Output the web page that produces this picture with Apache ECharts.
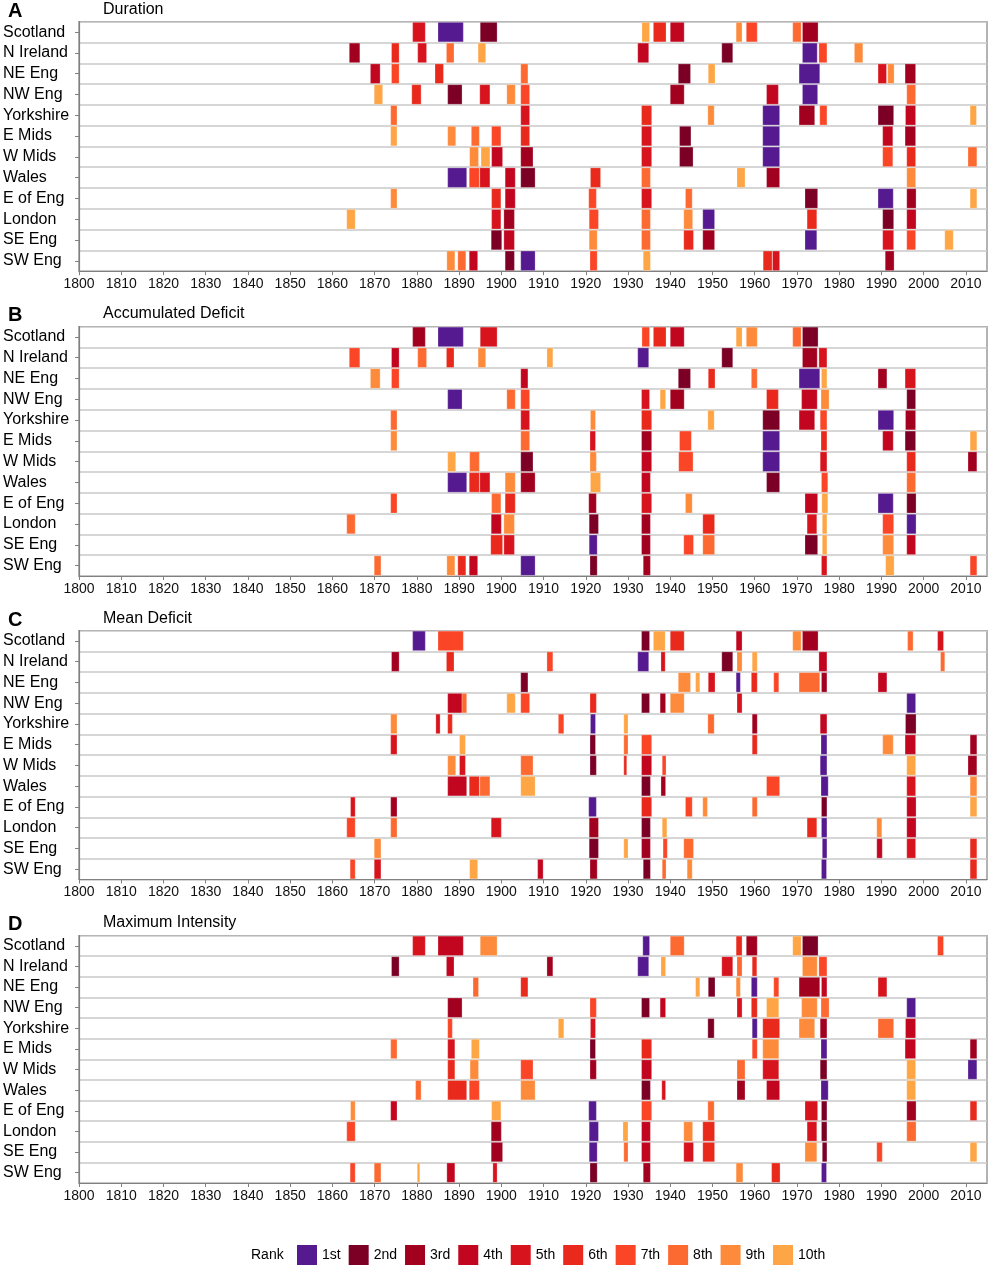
<!DOCTYPE html>
<html><head><meta charset="utf-8">
<script src="https://cdn.jsdelivr.net/npm/echarts@6/dist/echarts.min.js"></script>
<style>html,body{margin:0;padding:0;background:#fff}#c{width:989px;height:1267px}</style>
</head><body><div id="c"></div>
<script>
const regions = ['Scotland','N Ireland','NE Eng','NW Eng','Yorkshire','E Mids','W Mids','Wales','E of Eng','London','SE Eng','SW Eng'];
const rankNames = ['1st','2nd','3rd','4th','5th','6th','7th','8th','9th','10th'];
const rankColors = ['#561a90','#7c0025','#a2001f','#c2061f','#d7141d','#e8291c','#fa4526','#fd6a31','#fd8b3b','#fea545'];
const panelLetters = ['A','B','C','D'];
const panelTitles = ['Duration','Accumulated Deficit','Mean Deficit','Maximum Intensity'];
const yearMin = 1800, yearMax = 2015, yearStep = 10;

// each event: [start year, end year, rank]
const durationEvents = [
 [[1879,1882,5],[1885,1891,1],[1895,1899,2],[1933.3,1935.1,10],[1936,1939,6],[1940,1943.3,4],[1955.6,1957,9],[1958,1960.6,7],[1969,1971,8],[1971.3,1975,3]],
 [[1864,1866.5,3],[1874,1875.8,6],[1880.2,1882.3,5],[1887,1888.8,8],[1894.5,1896.3,10],[1932.3,1934.9,4],[1952.2,1954.8,2],[1971.3,1974.8,1],[1975.2,1977.1,7],[1983.6,1985.6,9]],
 [[1869,1871.3,4],[1874,1875.8,7],[1884.3,1886.3,6],[1904.6,1906.3,8],[1941.9,1944.8,2],[1949,1950.6,10],[1970.5,1975.4,1],[1989.2,1991.2,5],[1991.5,1993,9],[1995.6,1998.1,3]],
 [[1869.9,1871.9,10],[1878.8,1881,6],[1887.3,1890.7,2],[1894.9,1897.3,5],[1901.3,1903.3,9],[1904.6,1906.7,7],[1940,1943.3,3],[1962.8,1965.6,4],[1971.3,1974.9,1],[1996,1998.1,8]],
 [[1873.8,1875.3,8],[1904.6,1906.7,5],[1933.2,1935.6,6],[1948.9,1950.4,9],[1961.9,1965.9,1],[1970.5,1974.2,3],[1975.4,1977.1,7],[1989.2,1992.9,2],[1995.7,1998.1,4],[2011,2012.5,10]],
 [[1873.8,1875.3,10],[1887.3,1889.2,9],[1892.9,1894.8,8],[1897.7,1899.9,7],[1904.6,1906.7,6],[1933.2,1935.6,5],[1942.2,1944.9,2],[1961.9,1965.9,1],[1990.3,1992.7,4],[1995.6,1998.1,3]],
 [[1892.5,1894.6,9],[1895.2,1897.3,10],[1897.7,1900.3,4],[1904.6,1907.5,3],[1933.2,1935.6,5],[1942.2,1945.4,2],[1961.9,1965.9,1],[1990.3,1992.7,7],[1996,1998.1,6],[2010.5,2012.6,8]],
 [[1887.3,1891.8,1],[1892.4,1894.8,7],[1894.9,1897.3,5],[1900.9,1903.3,4],[1904.6,1908,2],[1921.1,1923.5,6],[1933.2,1935.3,8],[1955.8,1957.7,10],[1962.8,1965.9,3],[1996,1998.1,9]],
 [[1873.8,1875.3,9],[1897.7,1899.9,6],[1900.9,1903.3,4],[1920.7,1922.5,7],[1933.2,1935.6,5],[1943.6,1945.2,8],[1971.9,1974.9,2],[1989.2,1992.8,1],[1996,1998.2,3],[2011,2012.6,10]],
 [[1863.4,1865.4,10],[1897.7,1899.9,5],[1900.6,1903.1,3],[1920.8,1923,7],[1933.2,1935.3,8],[1943.2,1945.3,9],[1947.7,1950.5,1],[1972.4,1974.7,6],[1990.3,1992.9,2],[1996,1998.2,4]],
 [[1897.6,1900.1,2],[1900.6,1903.1,4],[1920.8,1922.7,9],[1933.2,1935.3,8],[1943.2,1945.5,6],[1947.7,1950.5,3],[1971.9,1974.7,1],[1990.3,1992.9,5],[1996,1998.1,7],[2005,2007,10]],
 [[1887.1,1889,9],[1889.7,1891.6,8],[1892.4,1894.4,4],[1900.9,1903.1,2],[1904.6,1908,1],[1921,1922.7,7],[1933.6,1935.3,10],[1962,1964.1,6],[1964.2,1965.9,5],[1990.9,1993,3]]
];
const accumulatedEvents = [
 [[1879,1882,3],[1885,1891,1],[1895,1899,5],[1933.3,1935.1,7],[1936,1939,6],[1940,1943.3,4],[1955.6,1957,10],[1958,1960.6,9],[1969,1971,8],[1971.3,1975,2]],
 [[1864,1866.5,7],[1874,1875.8,4],[1880.2,1882.3,8],[1887,1888.8,6],[1894.5,1896.3,9],[1910.8,1912.2,10],[1932.3,1934.9,1],[1952.2,1954.8,2],[1971.3,1974.8,3],[1975.2,1977.1,5]],
 [[1869,1871.3,9],[1874,1875.8,7],[1904.6,1906.3,4],[1941.9,1944.8,2],[1949,1950.6,6],[1959.2,1960.6,8],[1970.5,1975.4,1],[1975.8,1977.1,10],[1989.2,1991.3,3],[1995.6,1998.1,5]],
 [[1887.3,1890.7,1],[1901.3,1903.3,8],[1904.6,1906.7,7],[1933.2,1935.1,5],[1937.6,1938.9,10],[1940,1943.3,3],[1962.8,1965.6,6],[1971.1,1974.8,4],[1975.7,1977.6,9],[1996,1998.1,2]],
 [[1873.8,1875.3,8],[1904.6,1906.7,5],[1921.1,1922.3,9],[1933.2,1935.6,6],[1948.9,1950.4,10],[1961.9,1965.9,2],[1970.5,1974.2,4],[1975.5,1977.1,7],[1989.2,1992.9,1],[1995.7,1998.1,3]],
 [[1873.8,1875.3,9],[1904.6,1906.7,8],[1921,1922.3,5],[1933.2,1935.6,3],[1942.2,1945,7],[1961.9,1965.9,1],[1975.7,1977.1,6],[1990.3,1992.8,4],[1995.6,1998.1,2],[2011,2012.6,10]],
 [[1887.3,1889.2,10],[1892.5,1894.8,8],[1904.6,1907.5,2],[1921,1922.5,9],[1933.2,1935.6,4],[1942,1945.4,7],[1961.9,1965.9,1],[1975.5,1977.1,5],[1996,1998.1,6],[2010.5,2012.6,3]],
 [[1887.3,1891.8,1],[1892.4,1894.8,6],[1894.9,1897.3,5],[1900.9,1903.3,9],[1904.6,1908,3],[1921.1,1923.5,10],[1933.2,1935.3,4],[1962.8,1965.9,2],[1975.8,1977.3,7],[1996,1998.1,8]],
 [[1873.8,1875.3,7],[1897.7,1899.9,8],[1900.9,1903.3,6],[1920.7,1922.5,3],[1933.2,1935.6,5],[1943.6,1945.2,9],[1971.9,1974.9,4],[1975.9,1977.3,10],[1989.2,1992.8,1],[1996,1998.2,2]],
 [[1863.4,1865.4,8],[1897.6,1900,4],[1900.6,1903.1,9],[1920.8,1923,2],[1933.2,1935.3,3],[1947.7,1950.5,6],[1972.4,1974.7,5],[1976,1977.1,10],[1990.3,1992.9,7],[1996,1998.2,1]],
 [[1897.5,1900.3,6],[1900.6,1903.1,5],[1920.8,1922.7,1],[1933.2,1935.3,3],[1943.2,1945.5,7],[1947.7,1950.5,8],[1971.9,1974.9,2],[1976,1977.1,10],[1990.3,1992.9,9],[1996,1998.1,4]],
 [[1869.9,1871.5,8],[1887.1,1889,9],[1889.7,1891.6,6],[1892.4,1894.4,4],[1904.6,1908,1],[1921,1922.7,2],[1933.6,1935.3,3],[1975.8,1977.1,5],[1991,1993,10],[2011,2012.6,7]]
];
const meanEvents = [
 [[1879,1882,1],[1885,1891,7],[1933.2,1935.1,2],[1936,1938.8,10],[1940,1943.3,6],[1955.6,1957,4],[1969,1971,9],[1971.3,1975,3],[1996.2,1997.5,8],[2003.3,2004.7,5]],
 [[1874,1875.8,3],[1887,1888.8,6],[1910.8,1912.2,7],[1932.3,1934.9,1],[1937.8,1938.8,5],[1952.2,1954.8,2],[1955.8,1957,9],[1959.4,1960.6,10],[1975.2,1977.1,4],[2004,2005,8]],
 [[1904.6,1906.3,2],[1941.9,1944.8,9],[1946,1947,10],[1949,1950.6,5],[1955.6,1956.6,1],[1959.2,1960.6,6],[1964.5,1965.7,7],[1970.5,1975.4,8],[1975.8,1977.1,3],[1989.2,1991.3,4]],
 [[1887.3,1890.7,4],[1890.7,1891.8,8],[1901.3,1903.3,10],[1904.6,1906.7,7],[1921,1922.5,6],[1933.2,1935.1,2],[1937.6,1938.9,3],[1940,1943.3,9],[1955.8,1957,5],[1996,1998.1,1]],
 [[1873.8,1875.3,9],[1884.5,1885.5,5],[1887.3,1888.4,6],[1913.5,1914.8,7],[1921.1,1922.3,1],[1929,1930,10],[1948.9,1950.4,8],[1959.4,1960.6,3],[1975.5,1977.1,4],[1995.7,1998.2,2]],
 [[1873.8,1875.3,5],[1890.1,1891.5,10],[1921,1922.3,2],[1929,1930,8],[1933.2,1935.6,7],[1959.4,1960.6,6],[1975.7,1977.1,1],[1990.3,1992.8,9],[1995.6,1998.1,4],[2011,2012.6,3]],
 [[1887.3,1889.2,9],[1890.1,1891.5,5],[1904.6,1907.5,8],[1921,1922.5,2],[1929,1929.7,6],[1933.2,1935.6,4],[1938.1,1939,7],[1975.5,1977.1,1],[1996,1998.1,10],[2010.5,2012.6,3]],
 [[1887.3,1891.8,4],[1892.4,1894.8,6],[1894.9,1897.3,8],[1904.6,1908,10],[1933.2,1935.3,2],[1937.8,1938.9,3],[1962.8,1965.9,7],[1975.7,1977.4,1],[1996,1998.1,5],[2011,2012.6,9]],
 [[1864.3,1865.4,5],[1873.8,1875.3,3],[1920.7,1922.5,1],[1933.2,1935.6,6],[1943.6,1945.2,7],[1947.7,1948.8,9],[1959.4,1960.6,8],[1975.8,1977.1,2],[1996,1998.2,4],[2011,2012.6,10]],
 [[1863.4,1865.4,7],[1873.8,1875.3,8],[1897.6,1900,5],[1920.8,1923,3],[1933.2,1935.3,2],[1938.1,1939.2,10],[1972.4,1974.7,6],[1975.8,1977.1,1],[1988.9,1990.1,9],[1996,1998.2,4]],
 [[1869.9,1871.5,9],[1920.8,1923,2],[1929,1930,10],[1933.2,1935.3,3],[1938.3,1939.3,7],[1943.2,1945.5,8],[1976,1977.1,1],[1988.9,1990.2,4],[1996,1998.1,5],[2011,2012.6,6]],
 [[1864.2,1865.4,7],[1869.9,1871.5,5],[1892.5,1894.4,10],[1908.6,1909.9,4],[1921,1922.7,3],[1933.6,1935.3,2],[1938.1,1939,8],[1944,1945.2,9],[1975.8,1977,1],[2011,2012.6,6]]
];
const intensityEvents = [
 [[1879,1882,5],[1885,1891,4],[1895,1899,9],[1933.5,1935.1,1],[1940,1943.3,8],[1955.6,1957,6],[1958,1960.6,3],[1969,1971,10],[1971.3,1975,2],[2003.3,2004.7,7]],
 [[1874,1875.8,2],[1887,1888.8,4],[1910.8,1912.2,3],[1932.3,1934.9,1],[1937.8,1938.9,10],[1952.2,1954.8,5],[1955.8,1957,8],[1959.4,1960.5,6],[1971.3,1974.8,9],[1975.2,1977.1,7]],
 [[1893.3,1894.6,8],[1904.6,1906.3,6],[1946,1947,10],[1949,1950.6,2],[1955.6,1956.6,9],[1959.2,1960.6,1],[1964.5,1965.7,7],[1970.5,1975.4,3],[1975.8,1977.1,4],[1989.2,1991.3,5]],
 [[1887.3,1890.7,3],[1921,1922.5,7],[1933.2,1935.1,2],[1937.6,1938.9,4],[1955.8,1957,5],[1959.2,1960.6,6],[1962.8,1965.7,10],[1971.1,1974.8,9],[1975.7,1977.6,8],[1996,1998.1,1]],
 [[1887.3,1888.4,7],[1913.5,1914.8,10],[1921.1,1922.3,5],[1948.9,1950.4,2],[1959.4,1960.6,1],[1961.9,1965.9,6],[1970.5,1974.2,9],[1975.5,1977.1,3],[1989.2,1992.9,8],[1995.7,1998.1,4]],
 [[1873.8,1875.3,8],[1887.3,1889,5],[1892.9,1894.8,10],[1921,1922.3,2],[1933.2,1935.6,6],[1959.4,1960.6,7],[1961.9,1965.7,9],[1975.7,1977.1,1],[1995.6,1998.1,4],[2011,2012.6,3]],
 [[1887.3,1889,6],[1892.6,1894.6,9],[1904.6,1907.5,7],[1921,1922.5,3],[1933.2,1935.6,4],[1955.8,1957.7,8],[1961.9,1965.7,5],[1975.5,1977.1,2],[1996,1998.1,10],[2010.5,2012.6,1]],
 [[1879.7,1881,8],[1887.3,1891.8,6],[1892.4,1894.8,7],[1904.6,1908,9],[1933.2,1935.3,2],[1938,1938.9,5],[1955.8,1957.7,3],[1962.8,1965.9,4],[1975.7,1977.4,1],[1996,1998.1,10]],
 [[1864.3,1865.4,9],[1873.8,1875.3,4],[1897.7,1899.9,10],[1920.7,1922.5,1],[1933.2,1935.6,7],[1948.9,1950.4,8],[1971.9,1974.9,5],[1975.8,1977.1,2],[1996,1998.2,3],[2011,2012.6,6]],
 [[1863.4,1865.4,7],[1897.6,1900,3],[1920.8,1923,1],[1928.8,1930,10],[1933.2,1935.3,4],[1943.2,1945.3,9],[1947.7,1950.5,6],[1972.4,1974.7,5],[1975.8,1977.1,2],[1996,1998.2,8]],
 [[1897.6,1900.3,3],[1920.8,1922.7,1],[1929,1930,8],[1933.2,1935.3,4],[1943.2,1945.5,5],[1947.7,1950.5,6],[1971.9,1974.7,9],[1976,1977.1,2],[1988.9,1990.2,7],[2011,2012.6,10]],
 [[1864.2,1865.4,7],[1869.9,1871.5,8],[1880.1,1880.7,10],[1887.1,1889,4],[1898,1899,5],[1921,1922.7,2],[1933.6,1935.3,3],[1955.6,1957.2,9],[1964,1966,6],[1975.8,1977,1]]
];
const panels = [durationEvents, accumulatedEvents, meanEvents, intensityEvents];

const gridTops = [21.7, 326.5, 630.5, 935.5];
const gridHeights = [249.5, 249.5, 249, 247.5];
const titleOffsets = [0, 304.5, 609, 913.5];
const FONT = 'Liberation Sans, Arial, sans-serif';
const AXIS_GRAY = '#808080';

function renderBar(params, api) {
  const row = api.value(2);
  const a = api.coord([api.value(0), row]);
  const b = api.coord([api.value(1), row]);
  const h = api.size([0, 1])[1];
  return {
    type: 'rect',
    shape: { x: a[0], y: a[1] - h / 2 + 0.6, width: b[0] - a[0], height: h - 1.2 },
    style: Object.assign(api.style(), { stroke: 'rgba(255,255,255,0.25)', lineWidth: 1 })
  };
}

const grid = [], xAxis = [], yAxis = [], series = [], graphic = [];
panels.forEach((events, p) => {
  grid.push({ left: 79, right: 2, top: gridTops[p], height: gridHeights[p], show: true, borderColor: AXIS_GRAY, borderWidth: 1.2, backgroundColor: '#fff' });
  xAxis.push({
    type: 'value', gridIndex: p, min: yearMin, max: yearMax, interval: yearStep,
    axisLine: { show: true, lineStyle: { color: AXIS_GRAY, width: 1.2 } },
    axisTick: { show: true, length: 4, lineStyle: { color: AXIS_GRAY } },
    axisLabel: { fontSize: 14, color: '#111', fontFamily: FONT, margin: 6, formatter: v => String(v) },
    splitLine: { show: false }
  });
  yAxis.push({
    type: 'category', gridIndex: p, data: regions, inverse: true,
    axisLine: { show: true, lineStyle: { color: AXIS_GRAY, width: 1.2 } },
    axisTick: { show: true, length: 4, alignWithLabel: true, interval: 0, lineStyle: { color: AXIS_GRAY } },
    axisLabel: { fontSize: 16, color: '#000', fontFamily: FONT, align: 'left', margin: 76, interval: 0 },
    splitLine: { show: true, interval: 0, lineStyle: { color: '#c8c8c8', width: 1.5 } }
  });
  rankNames.forEach((rn, r) => {
    const data = [];
    events.forEach((rowEvents, ri) => {
      rowEvents.forEach(ev => { if (ev[2] === r + 1) data.push([ev[0], ev[1], ri]); });
    });
    series.push({
      type: 'custom', name: rn, xAxisIndex: p, yAxisIndex: p,
      renderItem: renderBar, encode: { x: [0, 1], y: 2 },
      itemStyle: { color: rankColors[r] }, data: data, animation: false
    });
  });
  graphic.push({ type: 'text', left: 8, top: titleOffsets[p] + 1, style: { text: panelLetters[p], font: 'bold 20px ' + FONT, fill: '#000' } });
  graphic.push({ type: 'text', left: 103, top: titleOffsets[p] + 1.5, style: { text: panelTitles[p], font: '16px ' + FONT, fill: '#000' } });
});
graphic.push({ type: 'text', left: 251, top: 1248, style: { text: 'Rank', font: '14px ' + FONT, fill: '#000' } });

const chart = echarts.init(document.getElementById('c'), null, { renderer: 'canvas' });
chart.setOption({
  animation: false,
  backgroundColor: '#fff',
  grid, xAxis, yAxis, series, graphic,
  legend: {
    data: rankNames, left: 297, top: 1245, padding: 0, itemWidth: 20, itemHeight: 20, itemGap: 8,
    icon: 'rect', selectedMode: false,
    textStyle: { fontSize: 14, color: '#000', fontFamily: FONT, width: 22 }
  }
});
</script></body></html>
